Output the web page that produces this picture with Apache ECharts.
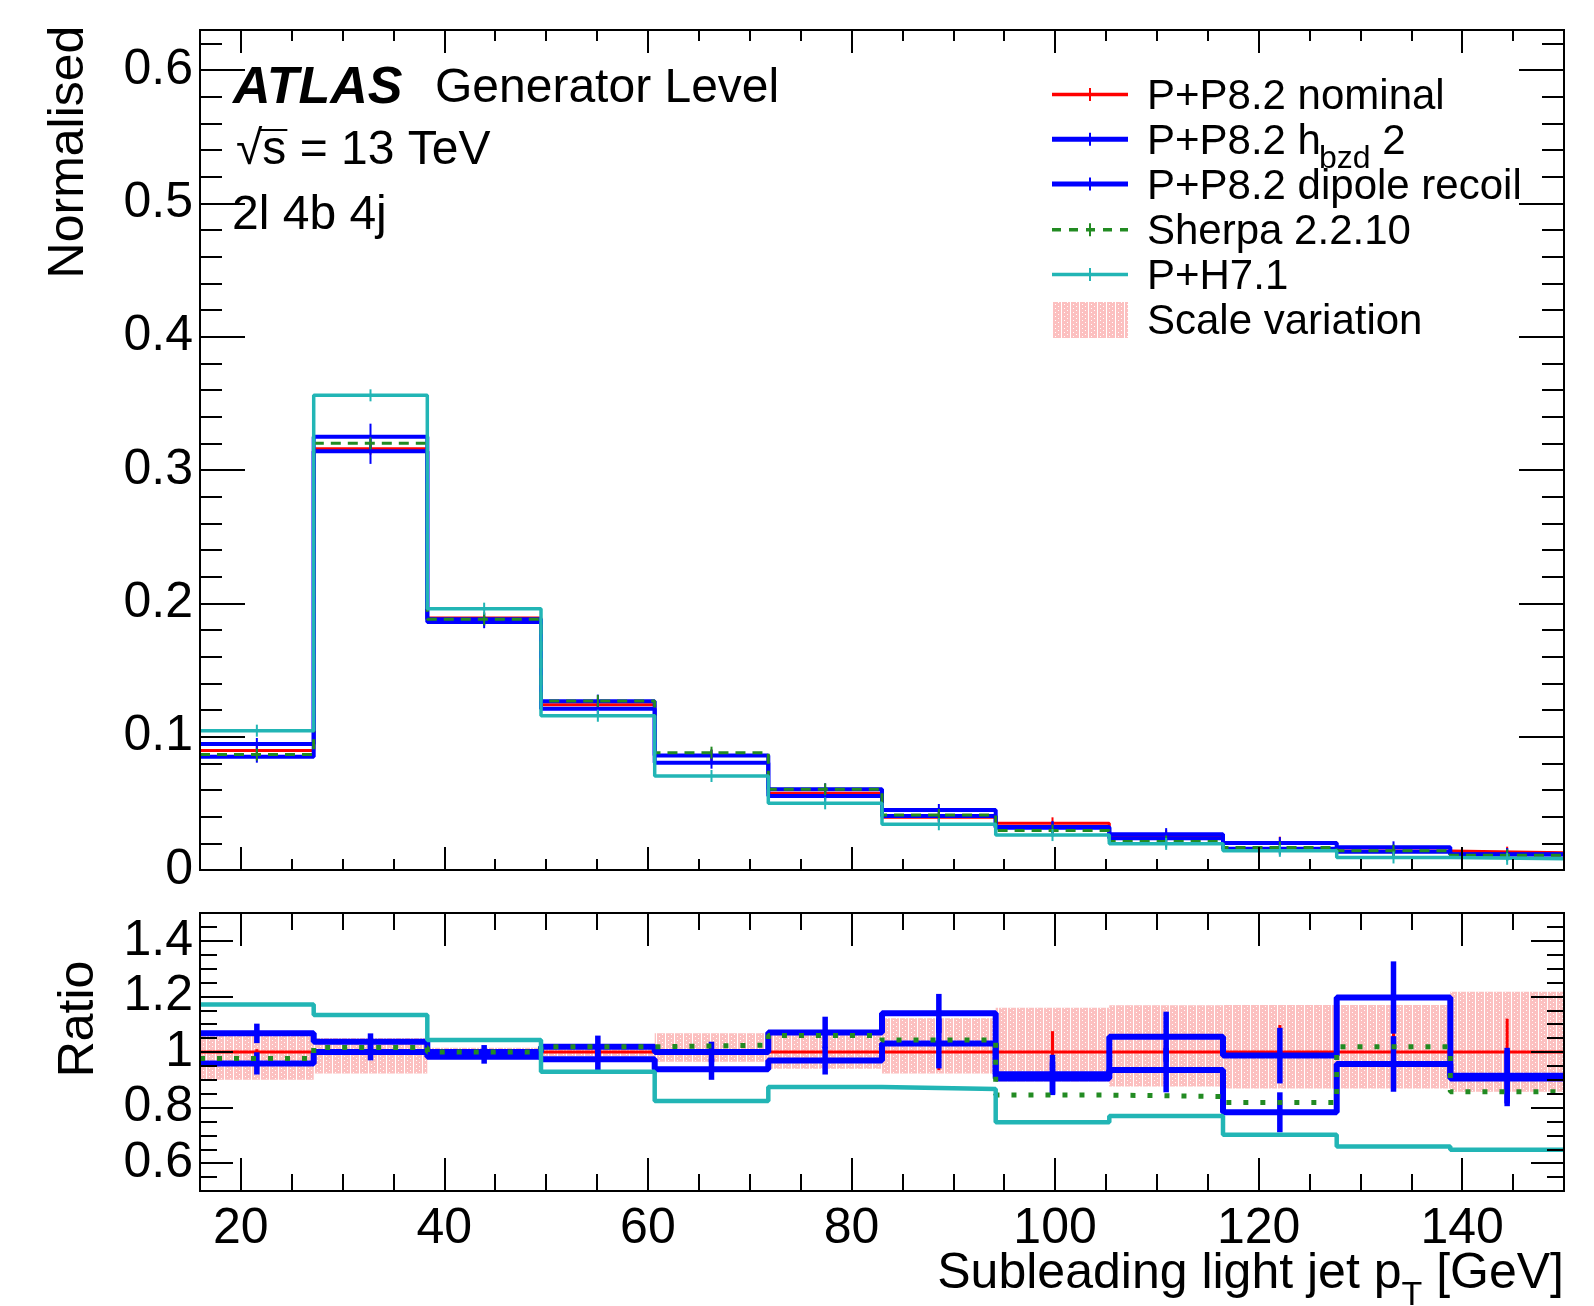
<!DOCTYPE html>
<html>
<head>
<meta charset="utf-8">
<script src="https://cdn.jsdelivr.net/npm/echarts@6/dist/echarts.min.js"></script>
<style>
html, body { margin: 0; padding: 0; background: #fff; }
#chart { width: 1594px; height: 1306px; }
</style>
</head>
<body>
<div id="chart"></div>
<script>
"use strict";

// bins of subleading light jet pT [GeV]
var binEdges = [16, 27.17, 38.33, 49.5, 60.67, 71.83, 83, 94.17, 105.33, 116.5, 127.67, 138.83, 150];
var xMajorTicks = [20, 40, 60, 80, 100, 120, 140];
var xMinorTicks = [20, 25, 30, 35, 40, 45, 50, 55, 60, 65, 70, 75, 80, 85, 90, 95, 100, 105, 110, 115, 120, 125, 130, 135, 140, 145];
var normTicks = [0, 0.1, 0.2, 0.3, 0.4, 0.5, 0.6];
var ratioTicks = [0.6, 0.8, 1, 1.2, 1.4];

// normalised distributions (top panel)
var nominal = [0.0896, 0.316, 0.189, 0.124, 0.0858, 0.0575, 0.0395, 0.035, 0.0255, 0.0205, 0.0142, 0.013];
var hbzd    = [0.0945, 0.325, 0.188, 0.1265, 0.0858, 0.0605, 0.045, 0.0322, 0.0269, 0.0202, 0.017, 0.0119];
var dipole  = [0.085, 0.314, 0.186, 0.121, 0.0805, 0.0555, 0.0405, 0.0317, 0.0238, 0.016, 0.0136, 0.0117];
var sherpa  = [0.0866, 0.320, 0.188, 0.1268, 0.088, 0.0605, 0.0412, 0.0296, 0.0214, 0.0168, 0.0145, 0.0111];
var herwig  = [0.1045, 0.356, 0.196, 0.1157, 0.0705, 0.050, 0.0343, 0.0262, 0.0196, 0.0144, 0.0094, 0.0084];

// ratios to nominal (bottom panel)
var rNominal = [1, 1, 1, 1, 1, 1, 1, 1, 1, 1, 1, 1];
var rHbzd    = [1.067, 1.037, 1.0, 1.019, 1.0, 1.07, 1.139, 0.92, 1.055, 0.987, 1.196, 0.915];
var rDipole  = [0.959, 1.0, 0.983, 0.974, 0.938, 0.969, 1.031, 0.905, 0.935, 0.783, 0.957, 0.905];
var rSherpa  = [0.977, 1.016, 1.0, 1.019, 1.025, 1.059, 1.043, 0.845, 0.84, 0.818, 1.019, 0.857];
var rHerwig  = [1.171, 1.133, 1.043, 0.929, 0.824, 0.874, 0.867, 0.747, 0.77, 0.702, 0.66, 0.648];
var scaleUp   = [1.06, 1.05, 1.015, 1.015, 1.067, 1.067, 1.121, 1.159, 1.168, 1.169, 1.169, 1.217];
var scaleDown = [0.90, 0.923, 0.985, 0.985, 0.965, 0.94, 0.923, 0.894, 0.876, 0.869, 0.869, 0.857];

// relative stat. uncertainties
var eNominal = [0.01, 0.01, 0.012, 0.015, 0.02, 0.03, 0.065, 0.075, 0.07, 0.097, 0.1, 0.12];
var eHbzd    = [0.035, 0.03, 0.025, 0.04, 0.037, 0.057, 0.07, 0.07, 0.09, 0.1, 0.13, 0.1];
var eDipole  = [0.04, 0.03, 0.025, 0.04, 0.038, 0.05, 0.09, 0.06, 0.08, 0.072, 0.1, 0.1];
var eSherpa  = [0.01, 0.01, 0.01, 0.012, 0.015, 0.02, 0.025, 0.03, 0.03, 0.035, 0.04, 0.045];
var eHerwig  = [0.008, 0.008, 0.01, 0.012, 0.015, 0.02, 0.025, 0.03, 0.03, 0.035, 0.04, 0.045];

var FONT = '"Liberation Sans", Arial, Helvetica, sans-serif';
var RED = "#ff0000", BLUE = "#0000ff", GREEN = "#228b22", CYAN = "#22b5b5";

var chart = echarts.init(document.getElementById("chart"), null, {renderer: "canvas"});

// pink dotted fill for the scale variation
var pc = document.createElement("canvas");
pc.width = 9; pc.height = 4;
var pctx = pc.getContext("2d");
pctx.fillStyle = "#fcc0c0";
pctx.fillRect(0, 0, 9, 4);
pctx.fillStyle = "#ffffff";
pctx.fillRect(8, 0, 1, 4);
pctx.fillRect(2, 0, 1, 1);
pctx.fillRect(5, 2, 1, 1);
var hatch = {image: pc, repeat: "repeat"};

var mctx = document.createElement("canvas").getContext("2d");
function textWidth(str, size, extra) {
	mctx.font = (extra || "") + " " + size + "px " + FONT;
	return mctx.measureText(str).width;
}

function axis(grid, pos, o) {
	var a = {
		type: "value",
		gridIndex: grid,
		position: pos,
		min: o.min,
		max: o.max,
		z: 10,
		axisLine: {show: true, onZero: false, lineStyle: {color: "#000", width: 2}},
		axisTick: {show: true, inside: true, length: o.len, lineStyle: {color: "#000", width: 2}},
		axisLabel: {show: false},
		splitLine: {show: false},
		minorTick: {show: false},
		minorSplitLine: {show: false}
	};
	if (o.ticks) {
		a.axisTick.customValues = o.ticks;
	}
	if (o.interval) {
		a.interval = o.interval;
	}
	if (o.labels) {
		a.axisLabel = {
			show: true,
			customValues: o.ticks,
			fontSize: 50,
			fontFamily: FONT,
			color: "#000",
			margin: o.margin,
			formatter: function (v) { return String(+(+v).toFixed(2)); }
		};
	}
	return a;
}

var xAxes = [
	axis(0, "bottom", {min: 16, max: 150, len: 23, ticks: xMajorTicks}),
	axis(0, "bottom", {min: 16, max: 150, len: 11, ticks: xMinorTicks}),
	axis(0, "top", {min: 16, max: 150, len: 23, ticks: xMajorTicks}),
	axis(0, "top", {min: 16, max: 150, len: 11, ticks: xMinorTicks}),
	axis(1, "bottom", {min: 16, max: 150, len: 33, ticks: xMajorTicks, labels: true, margin: 13}),
	axis(1, "bottom", {min: 16, max: 150, len: 17, ticks: xMinorTicks}),
	axis(1, "top", {min: 16, max: 150, len: 33, ticks: xMajorTicks}),
	axis(1, "top", {min: 16, max: 150, len: 17, ticks: xMinorTicks})
];
var yAxes = [
	axis(0, "left", {min: 0, max: 0.63, len: 45, ticks: normTicks, labels: true, margin: 7}),
	axis(0, "left", {min: 0, max: 0.63, len: 22, interval: 0.02}),
	axis(0, "right", {min: 0, max: 0.63, len: 45, ticks: normTicks}),
	axis(0, "right", {min: 0, max: 0.63, len: 22, interval: 0.02}),
	axis(1, "left", {min: 0.5, max: 1.5, len: 33, ticks: ratioTicks, labels: true, margin: 7}),
	axis(1, "left", {min: 0.5, max: 1.5, len: 17, interval: 0.05}),
	axis(1, "right", {min: 0.5, max: 1.5, len: 33, ticks: ratioTicks}),
	axis(1, "right", {min: 0.5, max: 1.5, len: 17, interval: 0.05})
];

function stepData(vals) {
	var d = [];
	for (var i = 0; i < vals.length; i++) {
		d.push([binEdges[i], vals[i]]);
	}
	d.push([binEdges[vals.length], vals[vals.length - 1]]);
	return d;
}

function stepSeries(name, vals, grid, color, width, dash, z) {
	return {
		type: "line",
		name: name,
		xAxisIndex: grid * 4,
		yAxisIndex: grid * 4,
		data: stepData(vals),
		step: "end",
		symbol: "none",
		silent: true,
		z: z,
		lineStyle: {color: color, width: width, type: dash || "solid", cap: "butt"}
	};
}

// vertical error bar at bin centres (rel = relative uncertainty), mark = min half length in px
function errSeries(vals, rel, scale, grid, color, width, z, mark) {
	var d = [];
	for (var i = 0; i < vals.length; i++) {
		d.push([(binEdges[i] + binEdges[i + 1]) / 2, vals[i], rel[i] * (scale ? vals[i] : 1)]);
	}
	return {
		type: "custom",
		xAxisIndex: grid * 4,
		yAxisIndex: grid * 4,
		data: d,
		z: z,
		silent: true,
		clip: true,
		encode: {x: 0, y: 1},
		renderItem: function (params, api) {
			var x = api.value(0), v = api.value(1), e = api.value(2);
			var c = api.coord([x, v]);
			var hi = api.coord([x, v + e]);
			var lo = api.coord([x, v - e]);
			return {
				type: "line",
				shape: {x1: c[0], y1: Math.min(hi[1], c[1] - mark), x2: c[0], y2: Math.max(lo[1], c[1] + mark)},
				style: {stroke: color, lineWidth: width}
			};
		}
	};
}

function bandSeries(up, down, grid) {
	var d = [];
	for (var i = 0; i < up.length; i++) {
		d.push([binEdges[i], binEdges[i + 1], down[i], up[i]]);
	}
	return {
		type: "custom",
		xAxisIndex: grid * 4,
		yAxisIndex: grid * 4,
		data: d,
		z: 1,
		silent: true,
		clip: true,
		encode: {x: [0, 1], y: [2, 3]},
		renderItem: function (params, api) {
			var p1 = api.coord([api.value(0), api.value(3)]);
			var p2 = api.coord([api.value(1), api.value(2)]);
			return {
				type: "rect",
				shape: {x: p1[0], y: p1[1], width: p2[0] - p1[0], height: p2[1] - p1[1]},
				style: {fill: hatch}
			};
		}
	};
}

var series = [
	// top panel
	stepSeries("P+P8.2 nominal", nominal, 0, RED, 3, null, 2),
	errSeries(nominal, eNominal, true, 0, RED, 2, 2, 6),
	stepSeries("P+P8.2 hbzd 2", hbzd, 0, BLUE, 4, null, 3),
	errSeries(hbzd, eHbzd, true, 0, BLUE, 2, 3, 6),
	stepSeries("P+P8.2 dipole recoil", dipole, 0, BLUE, 4, null, 4),
	errSeries(dipole, eDipole, true, 0, BLUE, 2, 4, 6),
	stepSeries("Sherpa 2.2.10", sherpa, 0, GREEN, 3, [10, 7], 5),
	errSeries(sherpa, eSherpa, true, 0, GREEN, 2, 5, 6),
	stepSeries("P+H7.1", herwig, 0, CYAN, 3.5, null, 6),
	errSeries(herwig, eHerwig, true, 0, CYAN, 2, 6, 6),
	// ratio panel
	bandSeries(scaleUp, scaleDown, 1),
	stepSeries("nominal ratio", rNominal, 1, RED, 3, null, 2),
	errSeries(rNominal, eNominal, false, 1, RED, 3, 2, 0),
	stepSeries("hbzd ratio", rHbzd, 1, BLUE, 6, null, 3),
	errSeries(rHbzd, eHbzd, false, 1, BLUE, 5.5, 3, 0),
	stepSeries("dipole ratio", rDipole, 1, BLUE, 6, null, 4),
	errSeries(rDipole, eDipole, false, 1, BLUE, 5.5, 4, 0),
	stepSeries("sherpa ratio", rSherpa, 1, GREEN, 5, [5, 12], 5),
	stepSeries("herwig ratio", rHerwig, 1, CYAN, 4.5, null, 6)
];

// texts, legend
function txt(str, x, y, size, extra) {
	var s = {text: str, x: 0, y: 0, fontSize: size, fontFamily: FONT, fill: "#000", align: "left", verticalAlign: "middle"};
	if (extra) {
		for (var k in extra) { s[k] = extra[k]; }
	}
	return {type: "text", x: x, y: y, z: 20, style: s};
}

var graphic = [];
graphic.push(txt("ATLAS", 233, 89, 52, {fontWeight: "bold", fontStyle: "italic"}));
graphic.push(txt("Generator Level", 435, 89, 48));
graphic.push(txt("\u221As = 13 TeV", 236, 151, 48));
var sqrtW = textWidth("\u221A", 48), sW = textWidth("s", 48);
graphic.push({type: "line", z: 20, shape: {x1: 236 + sqrtW - 2, y1: 130, x2: 236 + sqrtW + sW + 1, y2: 130}, style: {stroke: "#000", lineWidth: 2}});
graphic.push(txt("2l 4b 4j", 232, 216, 48));

var r1 = {type: "text", x: 69, y: 152, rotation: Math.PI / 2, z: 20,
	style: {text: "Normalised", fontSize: 50, fontFamily: FONT, fill: "#000", align: "center", verticalAlign: "middle"}};
var r2 = {type: "text", x: 79, y: 1019, rotation: Math.PI / 2, z: 20,
	style: {text: "Ratio", fontSize: 50, fontFamily: FONT, fill: "#000", align: "center", verticalAlign: "middle"}};
graphic.push(r1, r2);

// x axis title, right aligned at the frame
var t1 = "Subleading light jet p", t2 = "T", t3 = " [GeV]";
var w1 = textWidth(t1, 50), w2 = textWidth(t2, 34), w3 = textWidth(t3, 50);
var x0 = 1564 - (w1 + w2 + w3);
graphic.push(txt(t1, x0, 1274, 50));
graphic.push(txt(t2, x0 + w1, 1296, 34));
graphic.push(txt(t3, x0 + w1 + w2, 1274, 50));

var legendRows = [
	{label: "P+P8.2 nominal", color: RED, width: 3.5},
	{label: "P+P8.2 h", sub: "bzd", tail: " 2", color: BLUE, width: 5},
	{label: "P+P8.2 dipole recoil", color: BLUE, width: 5},
	{label: "Sherpa 2.2.10", color: GREEN, width: 3.5, dash: [9, 8]},
	{label: "P+H7.1", color: CYAN, width: 3.5}
];
var legendY = [94.5, 139.3, 184, 229.8, 274.5, 319.2];
legendRows.forEach(function (row, i) {
	var y = legendY[i];
	graphic.push({type: "line", z: 20, shape: {x1: 1052, y1: y, x2: 1128, y2: y},
		style: {stroke: row.color, lineWidth: row.width, lineDash: row.dash || null}});
	graphic.push({type: "line", z: 20, shape: {x1: 1090, y1: y - 6.5, x2: 1090, y2: y + 6.5},
		style: {stroke: row.color, lineWidth: 2}});
	graphic.push(txt(row.label, 1147, y + 3, 42));
	if (row.sub) {
		var wl = textWidth(row.label, 42), ws = textWidth(row.sub, 32);
		graphic.push(txt(row.sub, 1147 + wl - 2, y + 20, 32));
		graphic.push(txt(row.tail, 1147 + wl - 2 + ws, y + 3, 42));
	}
});
graphic.push({type: "rect", z: 20, shape: {x: 1052, y: 302, width: 76, height: 36}, style: {fill: hatch}});
graphic.push(txt("Scale variation", 1147, legendY[5] + 3, 42));

var option = {
	animation: false,
	backgroundColor: "#fff",
	grid: [
		{left: 200, right: 30, top: 30, height: 840},
		{left: 200, right: 30, top: 913, height: 278}
	],
	xAxis: xAxes,
	yAxis: yAxes,
	series: series,
	graphic: graphic
};

chart.setOption(option);
</script>
</body>
</html>
